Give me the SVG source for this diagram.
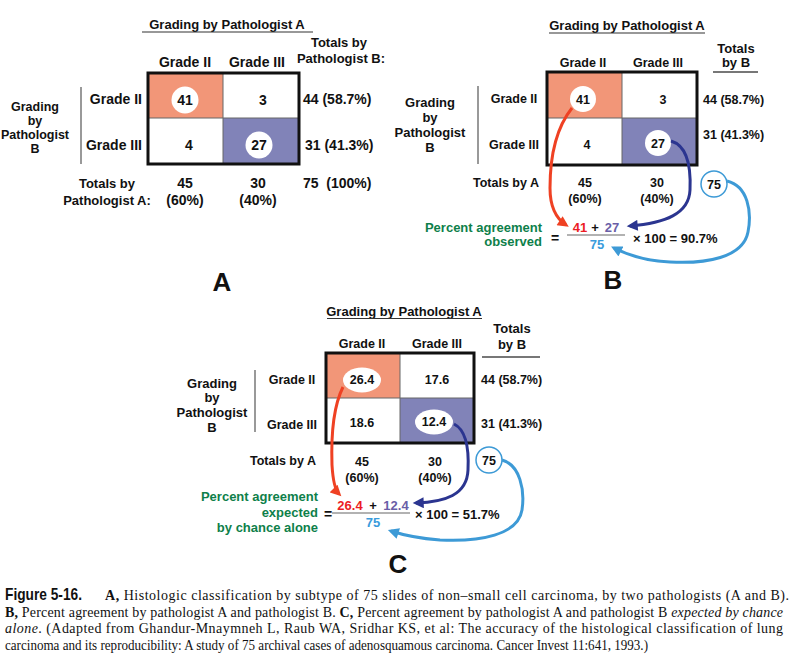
<svg xmlns="http://www.w3.org/2000/svg" width="796" height="668" viewBox="0 0 796 668">
<style>
text{font-family:"Liberation Sans",Arial,sans-serif;font-weight:bold;fill:#111}
.s14{font-size:14px}
.s13{font-size:13px}
.s12{font-size:12.5px}
.m{text-anchor:middle}
.e{text-anchor:end}
.big{font-size:26px;text-anchor:middle}
.grn{fill:#0e7f4a}
.red{fill:#ec1c24}
.pur{fill:#6a5ea7}
.blu{fill:#3a9bdc}
.box{fill:none;stroke:#111;stroke-width:3}
.in{stroke:#666;stroke-width:1;fill:none}
.bar{stroke:#777;stroke-width:1.5}
.ul{stroke:#333;stroke-width:1.2}
.ul2{stroke:#777;stroke-width:2}
.org{fill:#f29678}
.prp{fill:#8183b8}
.wc{fill:#fff}
.c75{fill:#fff;stroke:#3d9ad6;stroke-width:1.5}
.frac{stroke:#999;stroke-width:1.5}
.ar{fill:none;stroke-width:3}
.cap{font-family:"Liberation Serif","Times New Roman",serif;font-weight:normal;font-size:14px;fill:#111}
.cap .b{font-weight:bold}
.cap .i{font-style:italic}
</style>
<defs>
<marker id="hRed" viewBox="0 0 10 10" refX="7" refY="5" markerWidth="12" markerHeight="11" markerUnits="userSpaceOnUse" orient="auto"><path d="M0,0 L10,5 L0,10 z" fill="#ef4123"/></marker>
<marker id="hNav" viewBox="0 0 10 10" refX="7" refY="5" markerWidth="12" markerHeight="11" markerUnits="userSpaceOnUse" orient="auto"><path d="M0,0 L10,5 L0,10 z" fill="#2b3590"/></marker>
<marker id="hBlu" viewBox="0 0 10 10" refX="7" refY="5" markerWidth="12" markerHeight="11" markerUnits="userSpaceOnUse" orient="auto"><path d="M0,0 L10,5 L0,10 z" fill="#3d9ad6"/></marker>
</defs>
<rect width="796" height="668" fill="#fff"/>

<!-- Panel A -->
<g id="panelA">
<text class="s13 m" x="227" y="29">Grading by Pathologist A</text>
<line class="ul" x1="142" y1="32" x2="313" y2="32"/>
<text class="s13 m" x="339" y="47">Totals by</text>
<text class="s13 m" x="341" y="63">Pathologist B:</text>
<text class="s14 m" x="185" y="67">Grade II</text>
<text class="s14 m" x="257" y="67">Grade III</text>
<rect class="org" x="148" y="73" width="75" height="45"/>
<rect class="prp" x="223" y="118" width="76" height="46"/>
<line class="in" x1="223" y1="73" x2="223" y2="164"/>
<line class="in" x1="148" y1="118" x2="299" y2="118"/>
<rect class="box" x="148" y="73" width="151" height="91"/>
<circle class="wc" cx="185" cy="100" r="13.5"/>
<text class="s14 m" x="185" y="105">41</text>
<text class="s14 m" x="263" y="105">3</text>
<text class="s14 m" x="189" y="150">4</text>
<circle class="wc" cx="259" cy="145" r="13.5"/>
<text class="s14 m" x="259" y="150">27</text>
<text class="s14 e" x="142" y="104">Grade II</text>
<text class="s14 e" x="142" y="150">Grade III</text>
<line class="bar" x1="81" y1="87" x2="81" y2="164"/>
<text class="s12 m" x="35" y="111">Grading</text>
<text class="s12 m" x="35" y="125">by</text>
<text class="s12 m" x="35" y="139">Pathologist</text>
<text class="s12 m" x="35" y="153">B</text>
<text class="s14" x="303" y="104">44 (58.7%)</text>
<text class="s14" x="305" y="150">31 (41.3%)</text>
<text class="s13 m" x="107" y="188">Totals by</text>
<text class="s13 m" x="107" y="205">Pathologist A:</text>
<text class="s14 m" x="185" y="188">45</text>
<text class="s14 m" x="185" y="205">(60%)</text>
<text class="s14 m" x="258" y="188">30</text>
<text class="s14 m" x="258" y="205">(40%)</text>
<text class="s14" x="303" y="188" xml:space="preserve">75  (100%)</text>
<text class="big" x="222" y="291">A</text>
</g>

<!-- Panel B -->
<g id="panelB">
<text class="s13 m" x="627" y="30">Grading by Pathologist A</text>
<line class="ul" x1="549" y1="33" x2="705" y2="33"/>
<text class="s13 m" x="736" y="53">Totals</text>
<text class="s13 m" x="736" y="67">by B</text>
<line class="ul2" x1="713" y1="72" x2="758" y2="72"/>
<text class="s12 m" x="583" y="67">Grade II</text>
<text class="s12 m" x="658" y="67">Grade III</text>
<rect class="org" x="547" y="72" width="75" height="46"/>
<rect class="prp" x="622" y="118" width="75" height="47"/>
<line class="in" x1="622" y1="72" x2="622" y2="165"/>
<line class="in" x1="547" y1="118" x2="697" y2="118"/>
<rect class="box" x="547" y="72" width="150" height="93"/>
<circle class="wc" cx="583" cy="99" r="13"/>
<text class="s12 m" x="583" y="104">41</text>
<text class="s12 m" x="663" y="104">3</text>
<text class="s12 m" x="587" y="149">4</text>
<circle class="wc" cx="658" cy="143" r="13"/>
<text class="s12 m" x="658" y="148">27</text>
<text class="s12 m" x="514" y="103">Grade II</text>
<text class="s12 m" x="514" y="149">Grade III</text>
<line class="bar" x1="478" y1="86" x2="478" y2="164"/>
<text class="s13 m" x="430" y="107">Grading</text>
<text class="s13 m" x="430" y="122">by</text>
<text class="s13 m" x="430" y="137">Pathologist</text>
<text class="s13 m" x="430" y="152">B</text>
<text class="s12" x="703" y="104">44 (58.7%)</text>
<text class="s12" x="703" y="139">31 (41.3%)</text>
<text class="s12" x="473" y="187">Totals by A</text>
<text class="s12 m" x="585" y="187">45</text>
<text class="s12 m" x="585" y="203">(60%)</text>
<text class="s12 m" x="657" y="187">30</text>
<text class="s12 m" x="657" y="203">(40%)</text>
<circle class="c75" cx="714" cy="184" r="13"/>
<text class="s12 m" x="714" y="189">75</text>
<text class="s13 e grn" x="542" y="232">Percent agreement</text>
<text class="s13 e grn" x="542" y="246">observed</text>
<text class="s14 m" x="555" y="243">=</text>
<text class="s13 m red" x="580" y="232">41</text>
<text class="s13 m" x="595" y="232">+</text>
<text class="s13 m pur" x="612" y="232">27</text>
<line class="frac" x1="567" y1="235" x2="625" y2="235"/>
<text class="s13 m blu" x="597" y="249">75</text>
<text class="s13" x="633" y="243">× 100 = 90.7%</text>
<text class="big" x="613" y="289">B</text>
</g>

<!-- Panel C -->
<g id="panelC">
<text class="s13 m" x="404" y="316">Grading by Pathologist A</text>
<line class="ul" x1="327" y1="318.5" x2="482" y2="318.5"/>
<text class="s13 m" x="512" y="333">Totals</text>
<text class="s13 m" x="512" y="349">by B</text>
<line class="ul2" x1="482" y1="357" x2="540" y2="357"/>
<text class="s12 m" x="362" y="348">Grade II</text>
<text class="s12 m" x="437" y="348">Grade III</text>
<rect class="org" x="326" y="353" width="74" height="45"/>
<rect class="prp" x="400" y="398" width="74" height="45"/>
<line class="in" x1="400" y1="353" x2="400" y2="443"/>
<line class="in" x1="326" y1="398" x2="474" y2="398"/>
<rect class="box" x="326" y="353" width="148" height="90"/>
<ellipse class="wc" cx="362" cy="380" rx="19" ry="12.5"/>
<text class="s12 m" x="362" y="384">26.4</text>
<text class="s12 m" x="437" y="384">17.6</text>
<text class="s12 m" x="362" y="427">18.6</text>
<ellipse class="wc" cx="434" cy="422" rx="19" ry="12.5"/>
<text class="s12 m" x="434" y="426">12.4</text>
<text class="s12 m" x="292" y="384">Grade II</text>
<text class="s12 m" x="292" y="429">Grade III</text>
<line class="bar" x1="255" y1="370" x2="255" y2="432"/>
<text class="s13 m" x="212" y="388">Grading</text>
<text class="s13 m" x="212" y="402">by</text>
<text class="s13 m" x="212" y="417">Pathologist</text>
<text class="s13 m" x="212" y="432">B</text>
<text class="s12" x="481" y="384">44 (58.7%)</text>
<text class="s12" x="481" y="428">31 (41.3%)</text>
<text class="s12" x="250" y="465">Totals by A</text>
<text class="s12 m" x="362" y="466">45</text>
<text class="s12 m" x="362" y="482">(60%)</text>
<text class="s12 m" x="435" y="466">30</text>
<text class="s12 m" x="435" y="482">(40%)</text>
<circle class="c75" cx="489" cy="460" r="13"/>
<text class="s12 m" x="489" y="465">75</text>
<text class="s13 e grn" x="318" y="501">Percent agreement</text>
<text class="s13 e grn" x="318" y="517">expected</text>
<text class="s13 e grn" x="318" y="532">by chance alone</text>
<text class="s14 m" x="328" y="519">=</text>
<text class="s13 m red" x="350" y="510">26.4</text>
<text class="s13 m" x="373" y="510">+</text>
<text class="s13 m pur" x="396" y="510">12.4</text>
<line class="frac" x1="332" y1="513" x2="410" y2="513"/>
<text class="s13 m blu" x="373" y="527">75</text>
<text class="s13" x="415" y="519">× 100 = 51.7%</text>
<text class="big" x="398" y="573">C</text>
</g>

<!-- Connectors -->
<g id="connectors">
<path class="ar" stroke="#ef4123" marker-end="url(#hRed)" d="M572,108 C556,128 550,158 550,188 C550,208 557,219 566,225"/>
<path class="ar" stroke="#2b3590" marker-end="url(#hNav)" d="M671,141 C688,146 691,168 690,190 C689,214 665,223 630,226"/>
<path class="ar" stroke="#3d9ad6" marker-end="url(#hBlu)" d="M727,181 C748,186 752,212 748,232 C743,258 705,264 670,262 C645,261 626,254 614,248"/>
<path class="ar" stroke="#ef4123" marker-end="url(#hRed)" d="M343,387 C334,405 331,435 332,465 C333,482 335,490 339,494"/>
<path class="ar" stroke="#2b3590" marker-end="url(#hNav)" d="M454,424 C466,430 469,450 468,470 C467,495 445,502 416,503"/>
<path class="ar" stroke="#3d9ad6" marker-end="url(#hBlu)" d="M502,460 C520,465 525,490 522,510 C518,535 480,542 440,540 C415,538 400,534 391,531"/>
</g>

<!-- Caption -->
<g id="caption">
<text x="5" y="600" style="font-size:16.5px" textLength="77" lengthAdjust="spacingAndGlyphs">Figure 5-16.</text>
<text class="cap" x="105" y="600" textLength="684" lengthAdjust="spacing"><tspan class="b">A,</tspan> Histologic classification by subtype of 75 slides of non–small cell carcinoma, by two pathologists (A and B).</text>
<text class="cap" x="5" y="616.5" textLength="778" lengthAdjust="spacing"><tspan class="b">B,</tspan> Percent agreement by pathologist A and pathologist B. <tspan class="b">C,</tspan> Percent agreement by pathologist A and pathologist B <tspan class="i">expected by chance</tspan></text>
<text class="cap" x="5" y="633" textLength="778" lengthAdjust="spacing"><tspan class="i">alone</tspan>. (Adapted from Ghandur-Mnaymneh L, Raub WA, Sridhar KS, et al: The accuracy of the histological classification of lung</text>
<text class="cap" x="5" y="649.5" textLength="643" lengthAdjust="spacingAndGlyphs">carcinoma and its reproducibility: A study of 75 archival cases of adenosquamous carcinoma. Cancer Invest 11:641, 1993.)</text>
</g>
</svg>
